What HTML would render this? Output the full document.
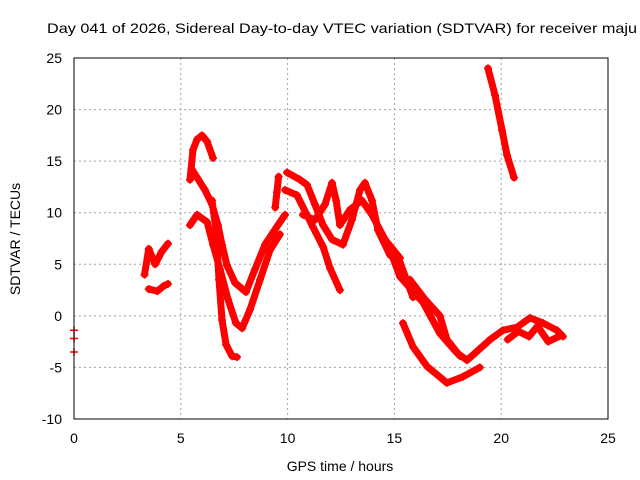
<!DOCTYPE html>
<html><head><meta charset="utf-8"><style>
body{margin:0;background:#fff;}
svg{display:block;font-family:"Liberation Sans",sans-serif;}
</style></head><body>
<svg id="chart" width="640" height="480" viewBox="0 0 640 480">
<text x="47" y="33" font-size="14" textLength="590" lengthAdjust="spacingAndGlyphs" fill="#000">Day 041 of 2026, Sidereal Day-to-day VTEC variation (SDTVAR) for receiver maju</text>
<text x="340" y="471" font-size="14" text-anchor="middle">GPS time / hours</text>
<text transform="translate(20,239) rotate(-90)" font-size="14" text-anchor="middle">SDTVAR / TECUs</text>
<g id="grid"></g><g id="ticks"></g><g id="series"></g>
<rect x="74" y="58" width="534" height="361" fill="none" stroke="#000" stroke-width="1"/>
</svg>
<script>
const xTicks=[0,5,10,15,20,25];
const yTicks=[-10,-5,0,5,10,15,20,25];
const seriesS1=[[3.3,4],[3.5,6.5],[3.8,5],[4.1,6.2],[4.4,7]];
const seriesS1b=[[3.5,2.6],[3.9,2.4],[4.2,2.9],[4.4,3.1]];
const seriesA=[[5.43,13.2],[5.57,16.1],[5.76,17.1],[5.99,17.5],[6.23,16.9],[6.51,15.3]];
const seriesB=[[5.52,14.2],[6.13,12.2],[6.46,10.8],[6.74,8.8],[6.93,6.9],[7.16,4.9],[7.54,3.2],[8.05,2.3],[8.47,4.5],[8.94,6.9],[9.55,8.8],[9.88,9.8]];
const seriesC=[[5.43,8.8],[5.76,9.8],[6.23,9.1],[6.51,6.9],[6.84,4.5],[7.21,1.6],[7.58,-0.7],[7.87,-1.2],[8.24,0.6],[8.71,3.5],[9.18,6.4],[9.64,7.9]];
const seriesD=[[6.46,11.2],[6.65,8.3],[6.79,3.5],[6.93,-0.4],[7.12,-2.8],[7.4,-3.9],[7.63,-4]];
const seriesStub=[[9.42,10.5],[9.5,12],[9.58,13.5]];
const seriesE=[[9.88,12.2],[10.44,11.7],[11.19,8.6],[11.66,6.7],[11.99,4.6],[12.45,2.5]];
const seriesF=[[9.97,13.9],[10.58,13.2],[10.91,12.7],[11.28,10.8],[11.66,8.8],[12.08,7.4],[12.59,6.9],[13.01,9.3],[13.39,12.2],[13.62,12.9],[13.95,11.2],[14.23,8.3],[14.79,5.9],[15.26,5.2],[15.87,1.8]];
const seriesG=[[10.72,9.8],[11.28,9.3],[11.75,10.8],[12.08,12.9],[12.27,11.2],[12.45,8.8],[12.92,10.3],[13.48,11.2],[13.95,9.8],[14.56,7.4],[15.26,5.6]];
const seriesH=[[14.79,6.4],[15.26,3.8],[16.34,1.3],[17.13,-1.7],[17.93,-3.6],[18.4,-4.3],[19.48,-2.3],[20.08,-1.4],[20.74,-1.1],[21.35,-0.2],[21.96,-0.7],[22.61,-1.4],[22.89,-2.0]];
const seriesI=[[15.73,3.5],[16.43,1.6],[17.13,0],[17.46,-2.3],[18.07,-3.9]];
const seriesJ=[[15.4,-0.7],[15.87,-3.0],[16.53,-4.9],[17.46,-6.5],[18.21,-5.9],[19.0,-5.0]];
const seriesK=[[20.3,-2.3],[20.8,-1.5],[21.3,-2.0],[21.7,-1.0],[22.2,-2.5],[22.8,-1.9]];
const seriesTop=[[19.38,24.0],[19.71,21.4],[20.04,18.0],[20.27,15.6],[20.6,13.4]];
const seriesEdge=[[0,-1.4],[0,-2.2],[0,-3.5]];
const allSeries=[seriesS1,seriesS1b,seriesA,seriesB,seriesC,seriesD,seriesStub,seriesE,seriesF,seriesG,seriesH,seriesI,seriesJ,seriesK,seriesTop,seriesEdge];
const X0=74,X1=608,Y0=419,Y1=58;
function xs(h){return X0+(h-0)/(25-0)*(X1-X0);}
function ys(v){return Y0-(v+10)/(35)*(Y0-Y1);}
const NS="http://www.w3.org/2000/svg";
const grid=document.getElementById('grid'),ticks=document.getElementById('ticks'),ser=document.getElementById('series');
xTicks.forEach(t=>{
 const x=xs(t);
 if(t>0&&t<25){const l=document.createElementNS(NS,'line');
 
 
 l.setAttribute('x1',x);l.setAttribute('x2',x);l.setAttribute('y1',Y1);l.setAttribute('y2',Y0);
 l.setAttribute('stroke','#a0a0a0');l.setAttribute('stroke-dasharray','2,3');grid.appendChild(l);}
 const tx=document.createElementNS(NS,'text');
 
 
 tx.setAttribute('x',x);tx.setAttribute('y',443);tx.setAttribute('font-size','14');tx.setAttribute('text-anchor','middle');
 tx.textContent=t;ticks.appendChild(tx);
});
yTicks.forEach(t=>{
 const y=ys(t);
 if(t>-10&&t<25){const l=document.createElementNS(NS,'line');
 
 
 l.setAttribute('x1',X0);l.setAttribute('x2',X1);l.setAttribute('y1',y);l.setAttribute('y2',y);
 l.setAttribute('stroke','#a0a0a0');l.setAttribute('stroke-dasharray','2,3');grid.appendChild(l);}
 const tx=document.createElementNS(NS,'text');
 
 
 tx.setAttribute('x',62);tx.setAttribute('y',y+5);tx.setAttribute('font-size','14');tx.setAttribute('text-anchor','end');
 tx.textContent=t;ticks.appendChild(tx);
});
allSeries.forEach(s=>{
 if(s!==seriesEdge){
 const p=document.createElementNS(NS,'polyline');
 
 
 p.setAttribute('points',s.map(d=>xs(d[0])+','+ys(d[1])).join(' '));
 p.setAttribute('fill','none');p.setAttribute('stroke','#ff0000');p.setAttribute('stroke-width','7');
 p.setAttribute('stroke-linejoin','round');p.setAttribute('stroke-linecap','round');
 ser.appendChild(p);}
 s.forEach(d=>{
  const m=document.createElementNS(NS,'path');
  
  
  const x=xs(d[0]),y=ys(d[1]);
  m.setAttribute('d',`M${x-4},${y}H${x+4}M${x},${y-4}V${y+4}`);
  m.setAttribute('stroke','#ff0000');m.setAttribute('stroke-width','1.5');
  ser.appendChild(m);
 });
});
</script>
</body></html>
